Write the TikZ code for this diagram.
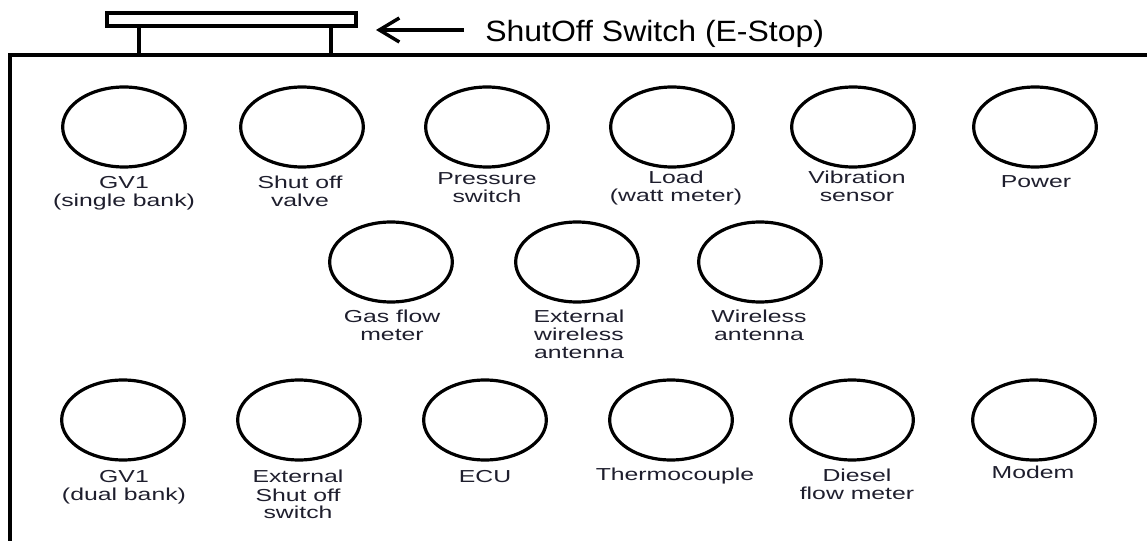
\documentclass[tikz,border=0pt]{standalone}
\usepackage{fontspec}
\setmainfont{Liberation Sans}
\newfontfamily\labfont[FakeStretch=1.43]{Liberation Sans}
\newfontfamily\titlefont[FakeStretch=1.09]{Liberation Sans}
\usetikzlibrary{shapes.geometric,arrows.meta}
\definecolor{txt}{RGB}{30,30,45}
\begin{document}
\begin{tikzpicture}[x=0.75pt,y=-0.75pt,
  port/.style={draw=black, line width=2.4pt, ellipse, minimum width=92pt, minimum height=60pt, inner sep=0pt},
  lab/.style={font=\labfont\fontsize{13pt}{13.5pt}\selectfont, text=txt, align=center, anchor=base, inner sep=0pt},
  frame/.style={line width=2.4pt, black},
  pointer/.style={line width=2.6pt, black, -{Straight Barb[length=15pt,width=18pt,line width=2.6pt]}}]
\useasboundingbox (0,0) rectangle (1147,541);
% enclosure
\draw[frame] (1152,55) -- (10,55) -- (10,546);
% shut off switch
\draw[frame] (107,13) rectangle (356,26);
\draw[frame] (139,26) -- (139,55);
\draw[frame] (331,26) -- (331,55);
% title and arrow
\node[font=\titlefont\fontsize{22pt}{26pt}\selectfont, text=black, anchor=base west, inner sep=0pt] (title) at (485,42) {ShutOff Switch (E-Stop)};
\coordinate (arrfrom) at (464,30);
\coordinate (arrto) at (376,30);
\draw[pointer] (arrfrom) -- (arrto);
% row 1
\node[port] (c1) at (124,127) {};
\node[port] (c2) at (302,127) {};
\node[port] (c3) at (487,127) {};
\node[port] (c4) at (672,127) {};
\node[port] (c5) at (853,127) {};
\node[port] (c6) at (1035,127) {};
\node[lab] (l1) at (124,207) {GV1\\(single bank)};
\node[lab] (l2) at (300,207) {Shut off\\valve};
\node[lab] (l3) at (487,203) {Pressure\\switch};
\node[lab] (l4) at (676,202) {Load\\(watt meter)};
\node[lab] (l5) at (857,202) {Vibration\\sensor};
\node[lab] (l6) at (1036,188) {Power};
% row 2
\node[port] (c7) at (391,262) {};
\node[port] (c8) at (577,262) {};
\node[port] (c9) at (760,262) {};
\node[lab] (l7) at (392,341) {Gas flow\\meter};
\node[lab] (l8) at (579,359) {External\\wireless\\antenna};
\node[lab] (l9) at (759,341) {Wireless\\antenna};
% row 3
\node[port] (c10) at (123,420) {};
\node[port] (c11) at (299,420) {};
\node[port] (c12) at (485,420) {};
\node[port] (c13) at (671,420) {};
\node[port] (c14) at (852,420) {};
\node[port] (c15) at (1034,420) {};
\node[lab] (l10) at (124,501) {GV1\\(dual bank)};
\node[lab] (l11) at (298,519) {External\\Shut off\\switch};
\node[lab] (l12) at (485,483) {ECU};
\node[lab] (l13) at (675,481) {Thermocouple};
\node[lab] (l14) at (857,500) {Diesel\\flow meter};
\node[lab] (l15) at (1033,479) {Modem};
\end{tikzpicture}
\end{document}
